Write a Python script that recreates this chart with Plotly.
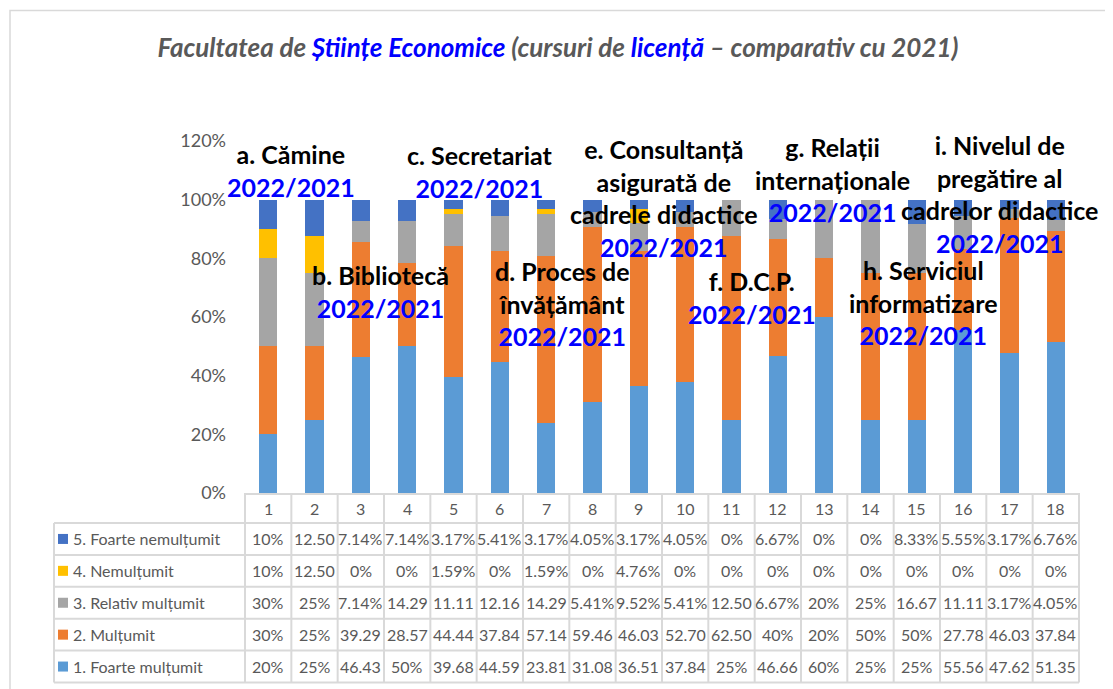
import plotly.graph_objects as go

# ---------------- data ----------------
categories = list(range(1, 19))
series_names = ["1. Foarte mulțumit", "2. Mulțumit", "3. Relativ mulțumit",
                "4. Nemulțumit", "5. Foarte nemulțumit"]
foarte_multumit = [20, 25, 46.43, 50, 39.68, 44.59, 23.81, 31.08, 36.51, 37.84,
                   25, 46.66, 60, 25, 25, 55.56, 47.62, 51.35]
multumit = [30, 25, 39.29, 28.57, 44.44, 37.84, 57.14, 59.46, 46.03, 52.70,
            62.5, 40, 20, 50, 50, 27.78, 46.03, 37.84]
relativ_multumit = [30, 25, 7.14, 14.29, 11.11, 12.16, 14.29, 5.41, 9.52, 5.41,
                    12.5, 6.67, 20, 25, 16.67, 11.11, 3.17, 4.05]
nemultumit = [10, 12.5, 0, 0, 1.59, 0, 1.59, 0, 4.76, 0,
              0, 0, 0, 0, 0, 0, 0, 0]
foarte_nemultumit = [10, 12.5, 7.14, 7.14, 3.17, 5.41, 3.17, 4.05, 3.17, 4.05,
                     0, 6.67, 0, 0, 8.33, 5.55, 3.17, 6.76]
colors = ["#5B9BD5", "#ED7D31", "#A5A5A5", "#FFC000", "#4472C4"]
series_values = [foarte_multumit, multumit, relativ_multumit, nemultumit, foarte_nemultumit]

y_ticks = [0, 0.2, 0.4, 0.6, 0.8, 1.0, 1.2]

group_labels = [
    ("a. Cămine", 1.486, 1.099),
    ("b. Bibliotecă", 3.42, 0.686),
    ("c. Secretariat", 5.58, 1.097),
    ("d. Proces de<br>învățământ", 7.35, 0.647),
    ("e. Consultanță<br>asigurată de<br>cadrele didactice", 9.55, 1.004),
    ("f. D.C.P.", 11.45, 0.666),
    ("g. Relații<br>internaționale", 13.17, 1.068),
    ("h. Serviciul<br>informatizare", 15.14, 0.650),
    ("i. Nivelul de<br>pregătire al<br>cadrelor didactice", 16.79, 1.019),
]
period_label = "2022/2021"


def cell_text(v):
    if float(v).is_integer():
        return f"{int(v)}%"
    s = f"{v:.2f}"
    return s if v >= 10 else s + "%"


# ---------------- geometry (screen pixels; page body has an 8px margin) ----------------
SW, SH = 1113, 689
OFF = 8
FW, FH = SW - OFF, SH - OFF
L, R, T, B = 245, 1079, 141, 493
W, H = R - L, B - T


def px(p):
    return (p - L) / W


def py(p):
    return (B - p) / H


FONT = "Lato"
GREY = "#595959"
GRID = "#D9D9D9"
TFS = 16

fig = go.Figure()
for name, vals, col in zip(series_names, series_values, colors):
    fig.add_trace(go.Bar(
        x=categories, y=[v / 100 for v in vals], name=name,
        marker=dict(color=col, line=dict(width=0)),
        showlegend=False, hoverinfo="skip"))

shapes = []
annotations = []

# outer frame
shapes.append(dict(type="rect", xref="paper", yref="paper",
                   x0=px(10), x1=px(1108), y0=py(692), y1=py(10.5),
                   line=dict(color=GRID, width=1.5), fillcolor="rgba(0,0,0,0)"))

# table grid
row_lines = [523 + k * 31.9 for k in range(6)]
for yl in row_lines:
    shapes.append(dict(type="line", xref="paper", yref="paper",
                       x0=px(54), x1=px(R), y0=py(yl), y1=py(yl),
                       line=dict(color=GRID, width=2)))
shapes.append(dict(type="line", xref="paper", yref="paper",
                   x0=px(54), x1=px(54), y0=py(row_lines[0]), y1=py(row_lines[-1]),
                   line=dict(color=GRID, width=2)))
ncat = len(categories)
for i in range(ncat + 1):
    xb = i / ncat
    shapes.append(dict(type="line", xref="paper", yref="paper",
                       x0=xb, x1=xb, y0=py(B), y1=py(row_lines[-1]),
                       line=dict(color=GRID, width=2)))

# header numbers
for c in categories:
    annotations.append(dict(x=c, y=py(508), xref="x", yref="paper",
                            xanchor="center", yanchor="middle",
                            text=str(c), showarrow=False,
                            font=dict(family=FONT, size=TFS, color=GREY)))

# table rows (top row = series 5)
rows = list(range(len(series_names)))[::-1]
for r_i, s_i in enumerate(rows):
    yc = (row_lines[r_i] + row_lines[r_i + 1]) / 2
    shapes.append(dict(type="rect", xref="paper", yref="paper",
                       x0=px(58), x1=px(68), y0=py(yc + 5), y1=py(yc - 5),
                       fillcolor=colors[s_i], line=dict(width=0)))
    annotations.append(dict(x=px(71), y=py(yc), xref="paper", yref="paper",
                            xanchor="left", yanchor="middle",
                            text=series_names[s_i], showarrow=False,
                            font=dict(family=FONT, size=TFS, color=GREY)))
    for c, v in zip(categories, series_values[s_i]):
        annotations.append(dict(x=c, y=py(yc), xref="x", yref="paper",
                                xanchor="center", yanchor="middle",
                                text=cell_text(v), showarrow=False,
                                font=dict(family=FONT, size=TFS, color=GREY)))

# group labels in the chart
for txt, xg, yg in group_labels:
    annotations.append(dict(
        x=xg, y=yg, xref="x", yref="y", showarrow=False,
        text=f"{txt}<br><span style='color:#0000FF'>{period_label}</span>",
        font=dict(family=FONT, size=25, color="#000000", weight="bold"),
        align="center", xanchor="center", yanchor="middle"))

fig.update_layout(
    width=FW, height=FH, autosize=False,
    margin=dict(l=L - OFF, r=SW - R, t=T - OFF, b=SH - B, pad=0),
    paper_bgcolor="white", plot_bgcolor="white",
    barmode="stack", bargap=0.61,
    title=dict(
        text="Facultatea de <span style='color:#0000FF'>Științe Economice</span> "
             "(cursuri de <span style='color:#0000FF'>licență</span> – comparativ cu 2021)",
        x=(558 - OFF) / FW, xref="container", xanchor="center",
        y=1 - (48 - OFF) / FH, yref="container", yanchor="middle",
        font=dict(family=FONT, size=26, color=GREY, weight="bold", style="italic")),
    xaxis=dict(range=[0.5, 18.5], showticklabels=False, ticks="",
               showgrid=False, zeroline=False, showline=True,
               linecolor=GRID, linewidth=2),
    yaxis=dict(range=[0, 1.2], tickvals=y_ticks, tickformat=".0%",
               showgrid=False, zeroline=False, showline=False, ticks="",
               ticklabelstandoff=18,
               tickfont=dict(family=FONT, size=18, color=GREY)),
    shapes=shapes, annotations=annotations,
)

fig.write_html("out.html")
